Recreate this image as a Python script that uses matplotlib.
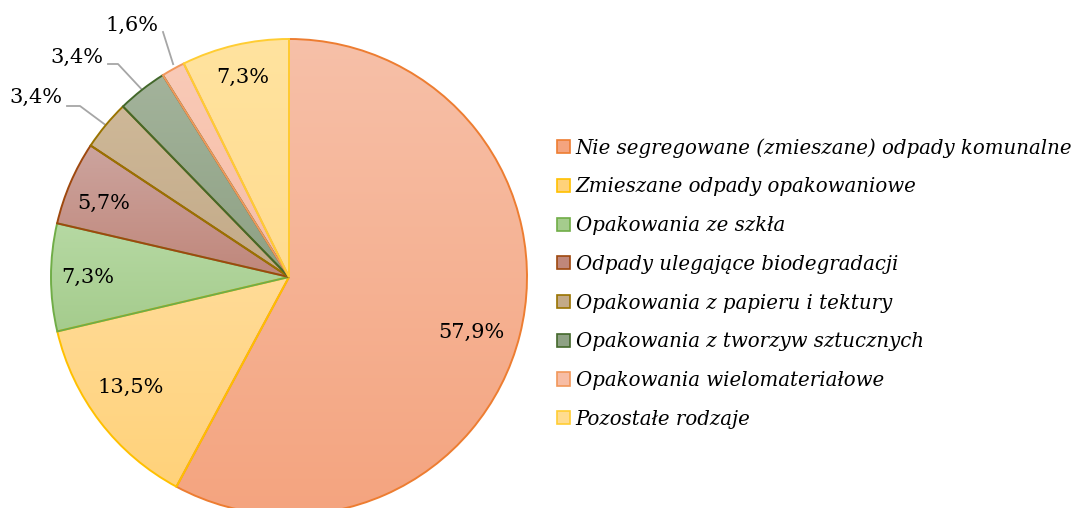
import numpy as np
import matplotlib
matplotlib.use("Agg")
import matplotlib.pyplot as plt
from matplotlib.colors import to_rgb
from matplotlib.patches import Patch

# --- Data ---
categories = [
    "Nie segregowane (zmieszane) odpady komunalne",
    "Zmieszane odpady opakowaniowe",
    "Opakowania ze szkła",
    "Odpady ulegające biodegradacji",
    "Opakowania z papieru i tektury",
    "Opakowania z tworzyw sztucznych",
    "Opakowania wielomateriałowe",
    "Pozostałe rodzaje",
]
shares = [57.9, 13.5, 7.3, 5.7, 3.4, 3.4, 1.6, 7.3]

# --- Style ---
fill_top = ["#F7C0A8", "#FFDB97", "#B6D9A3", "#CCA49E", "#CEB898", "#A3B39B", "#F9CAB7", "#FFE39F"]
fill_bottom = ["#F4A47F", "#FFD27A", "#A5CC8D", "#C0877B", "#C3AA88", "#8EA184", "#F7BDA5", "#FFDC90"]
edge_colors = ["#ED7D31", "#FFC000", "#70AD47", "#9E480E", "#997300", "#43682B", "#F1975A", "#FFCD33"]

W, H = 1073, 508
CX, CY, R = 289, H - 277, 238
FONT = "DejaVu Serif"
FS_LABEL = 15
FS_LEGEND = 14.2

# labels inside the pie: (distance as fraction of radius, angle nudge in degrees)
inside_pos = {0: (0.80, -2.7), 1: (0.81, -2.7), 2: (0.845, 0.0), 3: (0.837, 1.5), 7: (0.86, 0.0)}
# labels outside: text centre, leader start, elbow x (pixels from top-left)
outside_pos = {
    4: ((36, 97), (67, 106), 80),
    5: ((77, 57), (108, 64), 118),
    6: ((132, 25), (163, 32), None),
}


def fmt(v):
    return f"{v:.1f}%".replace(".", ",")


fig = plt.figure(figsize=(W / 100, H / 100), dpi=100)
ax = fig.add_axes([0, 0, 1, 1])

wedges, _ = ax.pie(shares, startangle=90, counterclock=False, radius=R,
                   center=(CX, CY), normalize=True,
                   wedgeprops=dict(linewidth=1.4, joinstyle="miter"))

for i, w in enumerate(wedges):
    w.set_facecolor("none")
    w.set_edgecolor(edge_colors[i])
    w.set_zorder(3)
    # vertical gradient fill, clipped to the wedge
    verts = w.get_patch_transform().transform(w.get_path().vertices)
    x0, y0 = verts.min(axis=0)
    x1, y1 = verts.max(axis=0)
    t = np.linspace(0, 1, 64)[:, None]
    grad = (1 - t) * np.array(to_rgb(fill_top[i])) + t * np.array(to_rgb(fill_bottom[i]))
    im = ax.imshow(grad[:, None, :], extent=[x0, x1, y0, y1], origin="upper",
                   aspect="auto", zorder=2, interpolation="bilinear")
    im.set_clip_path(w)

    mid = (w.theta1 + w.theta2) / 2
    if i in inside_pos:
        frac, nudge = inside_pos[i]
        a = np.deg2rad(mid + nudge)
        ax.text(CX + frac * R * np.cos(a), CY + frac * R * np.sin(a), fmt(shares[i]),
                ha="center", va="center", fontsize=FS_LABEL, family=FONT, zorder=4)
    else:
        (tx, ty), (sx, sy), elbow = outside_pos[i]
        ax.text(tx, H - ty, fmt(shares[i]), ha="center", va="center",
                fontsize=FS_LABEL, family=FONT, zorder=4)
        a = np.deg2rad(mid)
        tip = (CX + R * np.cos(a), CY + R * np.sin(a))
        if elbow is not None:
            xs = [sx, elbow, tip[0]]
            ys = [H - sy, H - sy, tip[1]]
        else:
            xs = [sx, tip[0]]
            ys = [H - sy, tip[1] + 5]
        ax.plot(xs, ys, color="#A6A6A6", lw=1.3, zorder=1)

handles = [Patch(facecolor=fill_bottom[i], edgecolor=edge_colors[i], linewidth=1.2)
           for i in range(len(categories))]
leg = ax.legend(handles, categories, loc="upper left",
                bbox_to_anchor=(557 / W, 1 - 138 / H), frameon=False,
                prop=dict(family=FONT, style="italic", size=FS_LEGEND),
                handlelength=0.65, handleheight=0.65, handletextpad=0.3,
                labelspacing=1.0, borderpad=0, borderaxespad=0)

ax.set_xlim(0, W)
ax.set_ylim(0, H)
ax.set_aspect("auto")
ax.set_axis_off()

fig.savefig("out.png", dpi=100)
